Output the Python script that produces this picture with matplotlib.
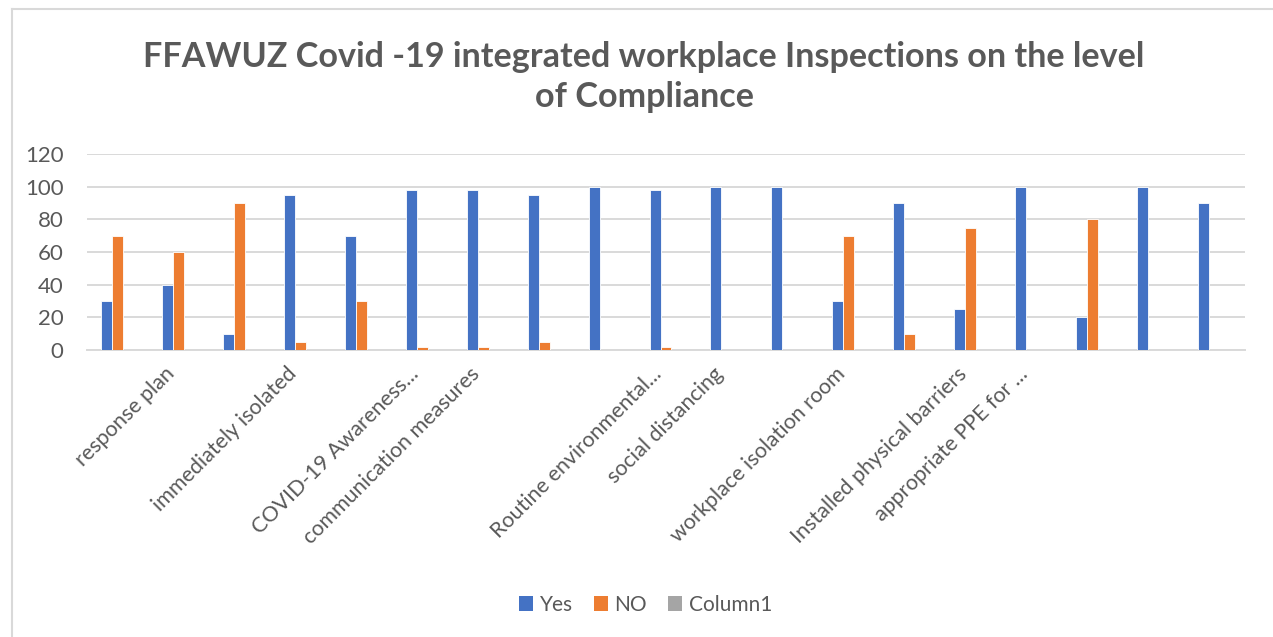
import numpy as np
import matplotlib

matplotlib.use('Agg')
import matplotlib.pyplot as plt
import matplotlib.transforms as mtransforms
from matplotlib.patches import Patch
from matplotlib.lines import Line2D

plt.rcParams['font.family'] = ['Lato', 'DejaVu Sans']

# ------------------------------------------------------------
# data
# ------------------------------------------------------------
categories = ['', 'response plan', '', 'immediately isolated', '', 'COVID-19 Awareness...',
              'communication measures', '', '', 'Routine environmental...', 'social distancing',
              '', 'workplace isolation room', '', 'Installed physical barriers',
              'appropriate PPE for ...', '', '', '']
yes_vals = [30, 40, 10, 95, 70, 98, 98, 95, 100, 98, 100, 100, 30, 90, 25, 100, 20, 100, 90]
no_vals = [70, 60, 90, 5, 30, 2, 2, 5, 0, 2, 0, 0, 70, 10, 75, 0, 80, 0, 0]
col1_vals = [0] * 19
series_names = ['Yes', 'NO', 'Column1']
colors = ['#4472C4', '#ED7D31', '#A5A5A5']
yticks = [0, 20, 40, 60, 80, 100, 120]

text_col = '#595959'
grid_col = '#D9D9D9'

W, H = 1273, 637
fig = plt.figure(figsize=(W / 100, H / 100), dpi=100)
fig.patch.set_facecolor('white')

# chart border (left + top only visible)
fig.add_artist(Line2D([12 / W, 12 / W], [0, 1 - 9 / H], color=grid_col, lw=1.5))
fig.add_artist(Line2D([12 / W, 1], [1 - 9 / H, 1 - 9 / H], color=grid_col, lw=1.5))

ax = fig.add_axes([87 / W, 1 - 350 / H, (1245 - 87) / W, (350 - 154) / H])

x = np.arange(len(categories))
w = 1 / (3 * 1.85)
for i, (vals, c) in enumerate(zip([yes_vals, no_vals, col1_vals], colors)):
    ax.bar(x + (i - 1) * w, vals, width=w, color=c, edgecolor='white', linewidth=0.6, zorder=3)

ax.set_xlim(-0.5, len(categories) - 0.5)
ax.set_ylim(0, 120)
ax.set_yticks(yticks)
ax.set_yticklabels([str(v) for v in yticks], fontsize=16, color=text_col)
ax.grid(axis='y', color=grid_col, lw=1.4, zorder=0)
for s in ['top', 'right', 'left']:
    ax.spines[s].set_visible(False)
ax.spines['bottom'].set_color(grid_col)
ax.spines['bottom'].set_linewidth(1.4)
ax.tick_params(axis='y', length=0, pad=17)
ax.tick_params(axis='x', length=0, pad=15)

ax.set_xticks(x)
ax.set_xticklabels(categories, rotation=45, ha='right', va='center',
                   rotation_mode='anchor', fontsize=15.5, color=text_col)
shift = mtransforms.ScaledTranslation(-7 / 100, 0, fig.dpi_scale_trans)
for lbl in ax.get_xticklabels():
    lbl.set_transform(lbl.get_transform() + shift)

fig.text(0.506, 1 - 77 / H,
         'FFAWUZ Covid -19 integrated workplace Inspections on the level\nof Compliance',
         ha='center', va='center', fontsize=24.6, fontweight='bold', color=text_col,
         linespacing=1.32)

handles = [Patch(facecolor=c, edgecolor='none') for c in colors]
fig.legend(handles, series_names, loc='center', bbox_to_anchor=(0.507, 1 - 605 / H),
           ncol=3, frameon=False, fontsize=15, labelcolor=text_col,
           handlelength=0.7, handleheight=0.7, handletextpad=0.3, columnspacing=1.0)

plt.savefig('out.png', dpi=100, facecolor='white')
plt.close()
